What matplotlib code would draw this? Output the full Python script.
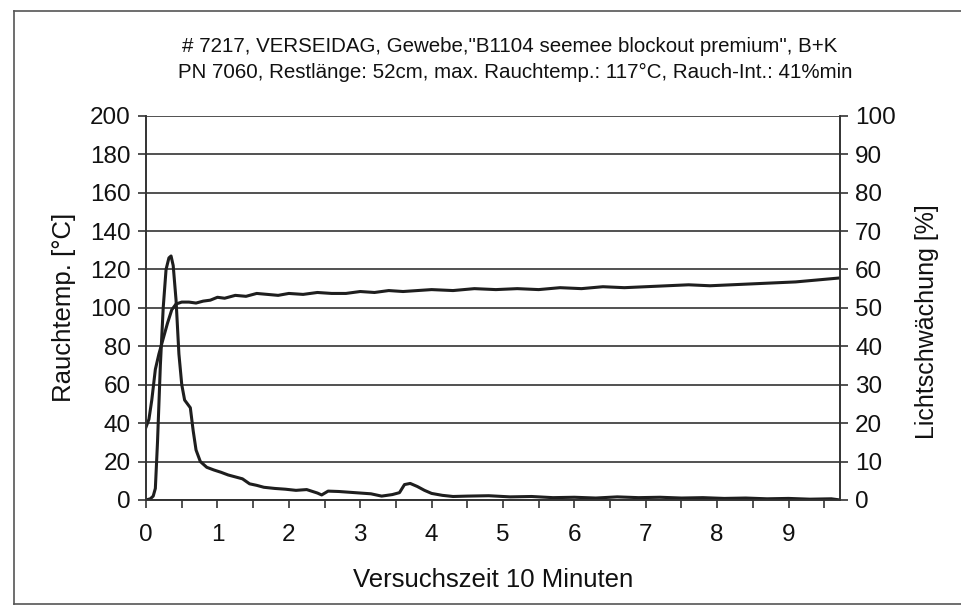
import matplotlib.pyplot as plt
from matplotlib.ticker import MultipleLocator
import numpy as np

plt.rcParams['font.family'] = ['Liberation Sans', 'DejaVu Sans']

title1 = '# 7217, VERSEIDAG, Gewebe,"B1104 seemee blockout premium", B+K'
title2 = 'PN 7060, Restlänge: 52cm, max. Rauchtemp.: 117°C, Rauch-Int.: 41%min'

# Rauchtemperatur [°C] (left axis)
t_temp = [0.0, 0.04, 0.08, 0.13, 0.18, 0.24, 0.30, 0.36, 0.42, 0.50, 0.60, 0.70, 0.80,
          0.90, 1.00, 1.10, 1.25, 1.40, 1.55, 1.70, 1.85, 2.0, 2.2, 2.4, 2.6, 2.8, 3.0,
          3.2, 3.4, 3.6, 3.8, 4.0, 4.3, 4.6, 4.9, 5.2, 5.5, 5.8, 6.1, 6.4, 6.7, 7.0,
          7.3, 7.6, 7.9, 8.2, 8.5, 8.8, 9.1, 9.4, 9.7]
temp = [38, 42, 52, 68, 76, 84, 92, 99, 102, 103, 103, 102.5, 103.5,
        104, 105.5, 105, 106.5, 106, 107.5, 107, 106.5, 107.5, 107, 108, 107.5, 107.5, 108.5,
        108, 109, 108.5, 109, 109.5, 109, 110, 109.5, 110, 109.5, 110.5, 110, 111, 110.5, 111,
        111.5, 112, 111.5, 112, 112.5, 113, 113.5, 114.5, 115.5]

# Lichtschwaechung [%] (right axis)
t_smoke = [0.0, 0.06, 0.10, 0.13, 0.16, 0.20, 0.24, 0.28, 0.32, 0.35, 0.38, 0.42, 0.46,
           0.50, 0.54, 0.58, 0.62, 0.66, 0.70, 0.76, 0.85, 0.95, 1.05, 1.15, 1.25, 1.35,
           1.45, 1.55, 1.65, 1.80, 1.95, 2.10, 2.25, 2.40, 2.46, 2.55, 2.70, 2.85, 3.00,
           3.15, 3.30, 3.45, 3.55, 3.62, 3.70, 3.80, 3.90, 4.00, 4.15, 4.30, 4.5, 4.8,
           5.1, 5.4, 5.7, 6.0, 6.3, 6.6, 6.9, 7.2, 7.5, 7.8, 8.1, 8.4, 8.7, 9.0, 9.3, 9.6, 9.72]
smoke = [0.0, 0.3, 1.0, 3.0, 15, 35, 50, 60, 63, 63.5, 61, 52, 38,
         30, 26, 25, 24, 18, 13, 10, 8.5, 7.8, 7.2, 6.5, 6.0, 5.5,
         4.2, 3.8, 3.3, 3.0, 2.8, 2.5, 2.7, 1.8, 1.3, 2.3, 2.2, 2.0, 1.8,
         1.6, 1.0, 1.4, 1.9, 4.0, 4.3, 3.5, 2.5, 1.7, 1.2, 0.9, 1.0, 1.1,
         0.8, 0.9, 0.6, 0.7, 0.5, 0.8, 0.6, 0.7, 0.5, 0.6, 0.4, 0.5, 0.3, 0.4, 0.2, 0.3, 0.0]

fig = plt.figure(figsize=(9.61, 6.06), dpi=100)
ax = fig.add_axes([0.152, 0.175, 0.722, 0.634])
ax2 = ax.twinx()

ink = '#1e1e1e'
ax.plot(t_temp, temp, color=ink, lw=2.2)
ax2.plot(t_smoke, smoke, color=ink, lw=2.2)

ax.set_xlim(0, 9.72)
ax.set_ylim(0, 200)
ax2.set_ylim(0, 100)
ax.set_yticks(np.arange(0, 201, 20))
ax2.set_yticks(np.arange(0, 101, 10))
ax.set_xticks(np.arange(0, 10, 1))
ax.xaxis.set_minor_locator(MultipleLocator(0.5))
ax.grid(axis='y', color='#333333', lw=1.2)
ax.set_axisbelow(True)

for a in (ax, ax2):
    for s in a.spines.values():
        s.set_color('#333333')
        s.set_linewidth(1.2)
    a.tick_params(which='both', direction='out', length=6, width=1.2,
                  color='#333333', labelsize=17.5, labelcolor='#111111', pad=5)
ax.spines['top'].set_visible(False)
ax2.spines['top'].set_visible(False)
ax.tick_params(axis='x', pad=11)

ax.set_ylabel('Rauchtemp. [°C]', fontsize=18.5, color='#111111', labelpad=10)
ax2.set_ylabel('Lichtschwächung [%]', fontsize=18, color='#111111')
ax2.yaxis.set_label_coords(1.108, 0.465)
ax.set_xlabel('Versuchszeit 10 Minuten', fontsize=18.5, color='#111111', labelpad=16)

fig.text(0.530, 0.924, title1, ha='center', va='center', fontsize=14.8, color='#111111')
fig.text(0.536, 0.881, title2, ha='center', va='center', fontsize=14.8, color='#111111')

# outer frame of the scanned sheet
frame = '#555555'
fig.add_artist(plt.Line2D([0.0146, 0.0146], [0.003, 0.982], color=frame, lw=1.2))
fig.add_artist(plt.Line2D([0.0146, 1.0], [0.982, 0.982], color=frame, lw=1.2))
fig.add_artist(plt.Line2D([0.0146, 1.0], [0.003, 0.003], color=frame, lw=1.2))

fig.savefig('out.png', dpi=100)
